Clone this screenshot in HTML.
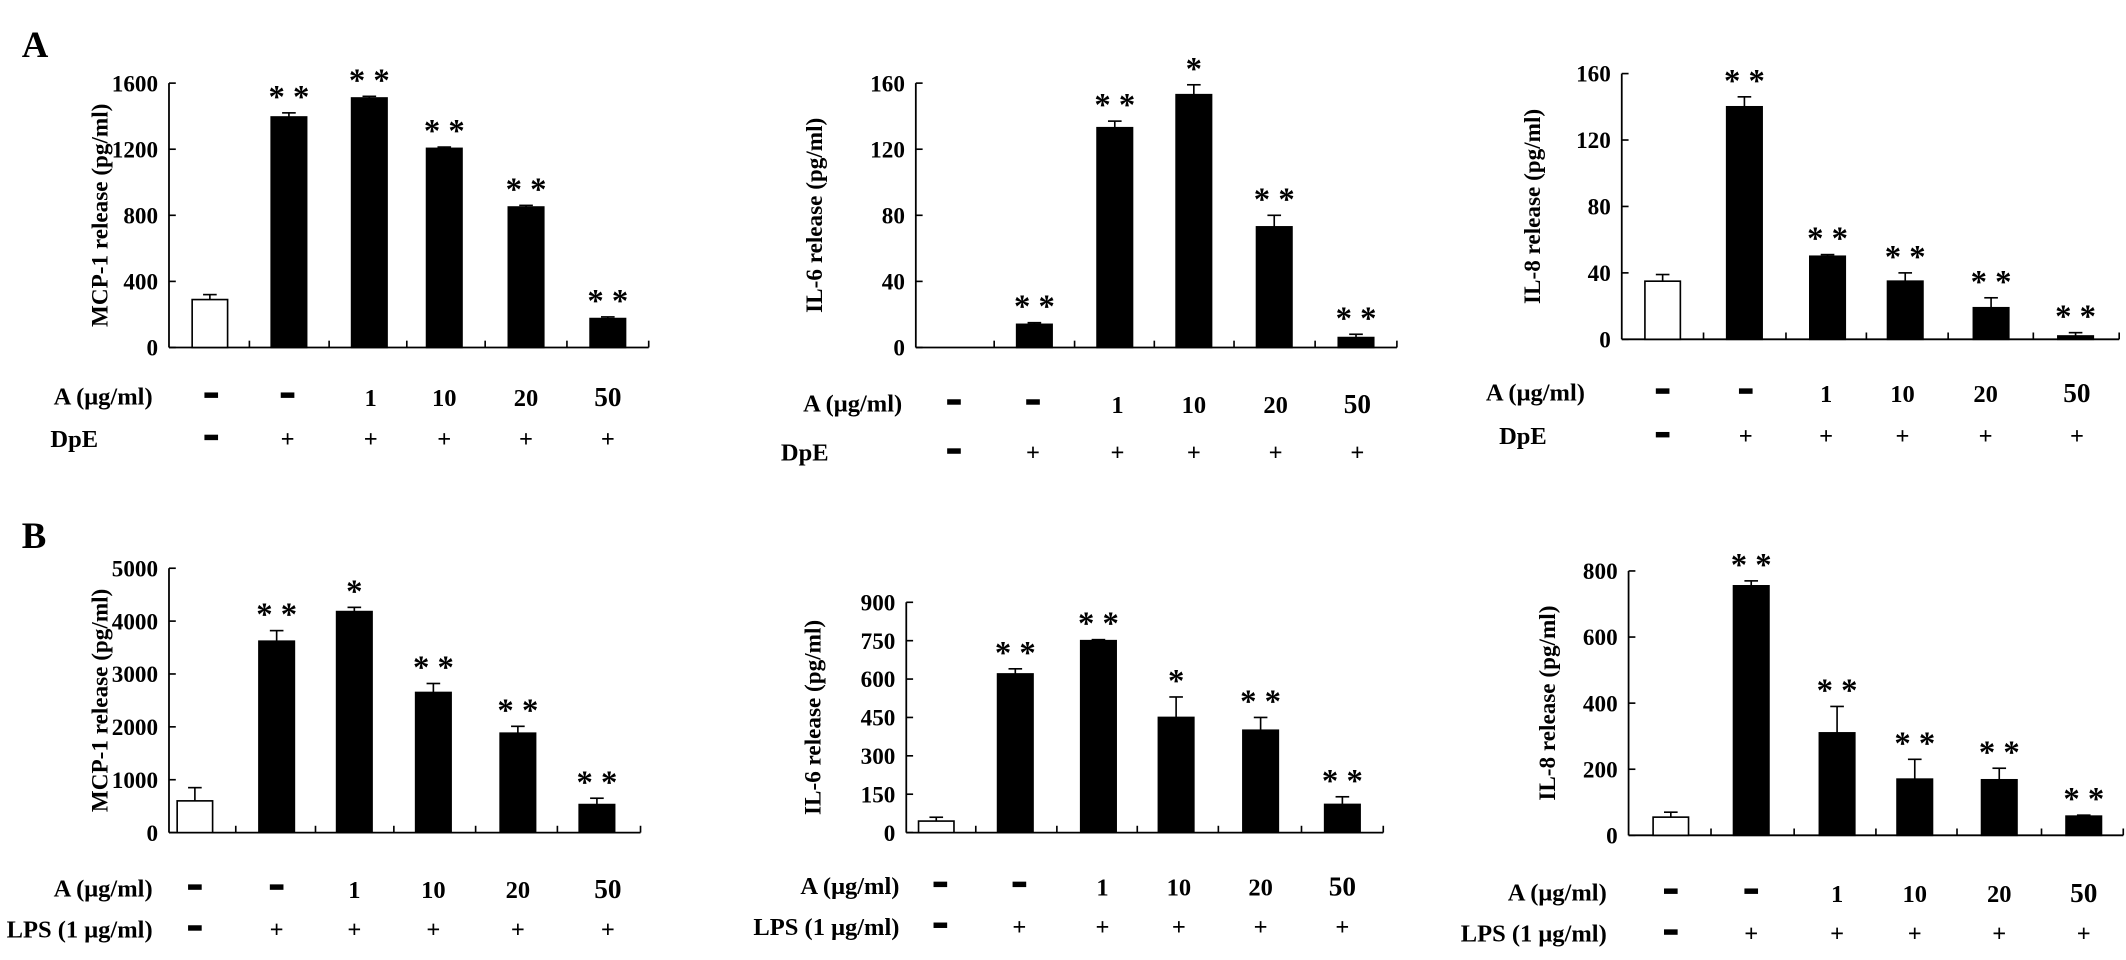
<!DOCTYPE html>
<html><head><meta charset="utf-8">
<style>
html,body{margin:0;padding:0;background:#fff;}
svg{display:block;}
text{font-family:"Liberation Serif",serif;font-weight:bold;fill:#000;}
</style></head>
<body>
<svg id="fig" xmlns="http://www.w3.org/2000/svg" width="2126" height="960" viewBox="0 0 1560 704.5" preserveAspectRatio="none">
<rect width="1560" height="704.5" fill="#fff"/>
<text x="16" y="42" font-size="27">A</text>
<text x="16" y="402" font-size="27">B</text>
</svg>
<script>
// ---- data ----
const mcp1A = [290, 1395, 1510, 1205, 850, 175];
const mcp1AErr = [30, 25, 10, 8, 10, 10];
const mcp1AStars = ['', '**', '**', '**', '**', '**'];
const il6A = [0, 14, 133, 153, 73, 6];
const il6AErr = [0, 1, 4, 6, 7, 2];
const il6AStars = ['', '**', '**', '*', '**', '**'];
const il8A = [35, 140, 50, 35, 19, 2];
const il8AErr = [4, 6, 1, 5, 6, 2];
const il8AStars = ['', '**', '**', '**', '**', '**'];
const mcp1B = [600, 3620, 4180, 2650, 1880, 530];
const mcp1BErr = [250, 200, 80, 170, 130, 120];
const mcp1BStars = ['', '**', '*', '**', '**', '**'];
const il6B = [45, 620, 750, 450, 400, 110];
const il6BErr = [15, 20, 4, 80, 50, 30];
const il6BStars = ['', '**', '**', '*', '**', '**'];
const il8B = [55, 755, 310, 170, 168, 58];
const il8BErr = [15, 15, 80, 60, 35, 3];
const il8BStars = ['', '**', '**', '**', '**', '**'];
const doseLabels = ['-', '-', '1', '10', '20', '50'];
const stimLabels = ['-', '+', '+', '+', '+', '+'];
const ticksA1 = [0, 400, 800, 1200, 1600];
const ticksA2 = [0, 40, 80, 120, 160];
const ticksA3 = [0, 40, 80, 120, 160];
const ticksB1 = [0, 1000, 2000, 3000, 4000, 5000];
const ticksB2 = [0, 150, 300, 450, 600, 750, 900];
const ticksB3 = [0, 200, 400, 600, 800];

const NS = 'http://www.w3.org/2000/svg';
const svg = document.getElementById('fig');
function mk(tag, attrs, parent){const e=document.createElementNS(NS,tag);for(const k in attrs)e.setAttribute(k,attrs[k]);(parent||svg).appendChild(e);return e;}

function rowItem(g, label, x, yy, bigNum){
  if(label==='-'){
    const r = mk('rect',{x:x-5,y:yy-3,width:10,height:4,fill:'#000'},g);
    
    
  } else if(label==='+'){
    const t = mk('text',{x:x,y:yy+6,'font-size':18,'text-anchor':'middle','font-weight':'normal'},g);
    t.textContent = '+';
    
    
  } else {
    const t = mk('text',{x:x,y:yy+7,'font-size':bigNum?20:18,'text-anchor':'middle'},g);
    t.textContent = label;
    
    
  }
}

function panel(p){
  const g = mk('g', {});
  
  
  const max = p.ticks[p.ticks.length-1];
  const y = v => p.y0 - (v/max)*(p.y0-p.ytop);
  const ya = mk('line',{x1:p.ax,y1:p.ytop,x2:p.ax,y2:p.y0,stroke:'#000','stroke-width':1.3},g);
  
  
  p.ticks.forEach(t=>{
    mk('line',{x1:p.ax,y1:y(t),x2:p.ax+5,y2:y(t),stroke:'#000','stroke-width':1.2},g);
    const tl = mk('text',{x:p.ax-8,y:y(t)+6,'font-size':17,'text-anchor':'end'},g);
    tl.textContent = t;
    
    
  });
  const yl = mk('text',{x:0,y:0,'font-size':17,'text-anchor':'middle',transform:`translate(${p.ylx},${(p.ytop+p.y0)/2}) rotate(-90)`},g);
  yl.textContent = p.ylabel;
  
  
  const xa = mk('line',{x1:p.ax,y1:p.y0,x2:p.xend,y2:p.y0,stroke:'#000','stroke-width':1.3},g);
  
  
  const bw = 26;
  p.vals.forEach((v,i)=>{
    const cx = p.centers[i];
    const tx = i<p.vals.length-1 ? (p.centers[i]+p.centers[i+1])/2 : p.xend;
    mk('line',{x1:tx,y1:p.y0,x2:tx,y2:p.y0-5,stroke:'#000','stroke-width':1.2},g);
    const top = y(v+p.err[i]);
    if(p.err[i]>0){
      mk('line',{x1:cx,y1:y(v),x2:cx,y2:top,stroke:'#000','stroke-width':1.2},g);
      mk('line',{x1:cx-5,y1:top,x2:cx+5,y2:top,stroke:'#000','stroke-width':1.2},g);
    }
    if(v>0){
      const r = mk('rect',{x:cx-bw/2,y:y(v),width:bw,height:p.y0-y(v),fill:i===0?'#fff':'#000',stroke:'#000','stroke-width':1.2},g);
      
      
    }
    if(p.stars[i]){
      const s = mk('text',{x:cx,y:top-4,'font-size':24,'text-anchor':'middle','font-family':'Liberation Sans, sans-serif'},g);
      s.textContent = p.stars[i].split('').join(' ');
      
      
    }
    rowItem(g, doseLabels[i], p.lcenters[i], p.row1, i===5);
    rowItem(g, stimLabels[i], p.lcenters[i], p.row2, false);
  });
  const r1 = mk('text',{x:p.lr,y:p.row1+6,'font-size':18,'text-anchor':'end'},g);
  r1.textContent = 'A (μg/ml)';
  
  
  const r2 = mk('text',{x:p.lr2,y:p.row2+6,'font-size':18,'text-anchor':'end'},g);
  r2.textContent = p.stim;
  
  
}

panel({name:'chart-a-mcp1',ax:124,y0:255,ytop:61,xend:476,ticks:ticksA1,vals:mcp1A,err:mcp1AErr,stars:mcp1AStars,
  centers:[154,212,271,326,386,446],lcenters:[155,211,272,326,386,446],row1:291,row2:322,lr:112,lr2:72,stim:'DpE',ylabel:'MCP-1 release (pg/ml)',ylx:79});
panel({name:'chart-a-il6',ax:672,y0:255,ytop:61,xend:1025,ticks:ticksA2,vals:il6A,err:il6AErr,stars:il6AStars,
  centers:[700,759,818,876,935,995],lcenters:[700,758,820,876,936,996],row1:296,row2:332,lr:662,lr2:608,stim:'DpE',ylabel:'IL-6 release (pg/ml)',ylx:603});
panel({name:'chart-a-il8',ax:1190,y0:249,ytop:54,xend:1555,ticks:ticksA3,vals:il8A,err:il8AErr,stars:il8AStars,
  centers:[1220,1280,1341,1398,1461,1523],lcenters:[1220,1281,1340,1396,1457,1524],row1:288,row2:320,lr:1163,lr2:1135,stim:'DpE',ylabel:'IL-8 release (pg/ml)',ylx:1130});
panel({name:'chart-b-mcp1',ax:124,y0:611,ytop:417,xend:470,ticks:ticksB1,vals:mcp1B,err:mcp1BErr,stars:mcp1BStars,
  centers:[143,203,260,318,380,438],lcenters:[143,203,260,318,380,446],row1:652,row2:682,lr:112,lr2:112,stim:'LPS (1 μg/ml)',ylabel:'MCP-1 release (pg/ml)',ylx:79});
panel({name:'chart-b-il6',ax:665,y0:611,ytop:442,xend:1015,ticks:ticksB2,vals:il6B,err:il6BErr,stars:il6BStars,
  centers:[687,745,806,863,925,985],lcenters:[690,748,809,865,925,985],row1:650,row2:680,lr:660,lr2:660,stim:'LPS (1 μg/ml)',ylabel:'IL-6 release (pg/ml)',ylx:602});
panel({name:'chart-b-il8',ax:1195,y0:613,ytop:419,xend:1558,ticks:ticksB3,vals:il8B,err:il8BErr,stars:il8BStars,
  centers:[1226,1285,1348,1405,1467,1529],lcenters:[1226,1285,1348,1405,1467,1529],row1:655,row2:685,lr:1179,lr2:1179,stim:'LPS (1 μg/ml)',ylabel:'IL-8 release (pg/ml)',ylx:1141});
</script>
</body></html>
